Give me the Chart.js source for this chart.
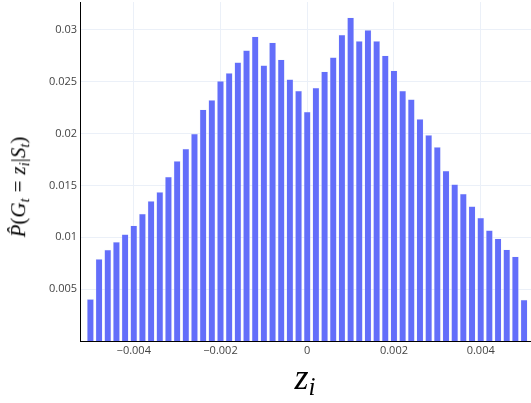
<!DOCTYPE html>
<html>
<head>
<meta charset="utf-8">
<script src="https://cdn.jsdelivr.net/npm/chart.js@4"></script>
<style>
  body { margin: 0; background: #fff; }
  #wrap { position: relative; width: 531px; height: 403px; }
  .math { position: absolute; font-family: 'Liberation Serif', 'DejaVu Serif', serif; color: #000; white-space: nowrap; }
  .math i { font-style: italic; }
  .math sub { font-size: 0.7em; vertical-align: -0.25em; }
  .math .rel { padding: 0 0.28em; }
  #xTitle { left: 0; width: 610px; top: 357px; text-align: center; font-size: 36px; line-height: 40px; }
  #yTitle { left: 21px; top: 187px; font-size: 21px; line-height: 24px; transform: translate(-50%, -50%) rotate(-90deg); }
</style>
</head>
<body>
<div id="wrap">
  <canvas id="chart" width="531" height="403"></canvas>
  <div id="xTitle" class="math"><i>z</i><sub><i>i</i></sub></div>
  <div id="yTitle" class="math"><i>P̂</i>(<i>G</i><sub><i>t</i></sub><span class="rel">=</span><i>z</i><sub><i>i</i></sub>|<i>S</i><sub><i>t</i></sub>)</div>
</div>
<script>
// bin centres (step 0.0002) and the estimated probability of each bin
const binCenters = [];
for (let i = 0; i <= 50; i++) binCenters.push(Math.round((-0.005 + i * 0.0002) * 1e5) / 1e5);

const probs = [
  0.00404, 0.00792, 0.00879, 0.00956, 0.0103, 0.01113, 0.01228, 0.01351, 0.01437, 0.01585,
  0.01736, 0.01855, 0.01999, 0.02234, 0.02324, 0.02507, 0.02584, 0.0269, 0.02805, 0.02937,
  0.02661, 0.0288, 0.02716, 0.02526, 0.02413, 0.02211, 0.02442, 0.026, 0.02738, 0.02953,
  0.0312, 0.02895, 0.03001, 0.02895, 0.02754, 0.0261, 0.02413, 0.02333, 0.02141, 0.01987,
  0.01871, 0.01643, 0.01512, 0.01421, 0.013, 0.0119, 0.01068, 0.00988, 0.00882, 0.00814,
  0.00397
];

const xTicks = [-0.004, -0.002, 0, 0.002, 0.004];
const yTicks = [0.005, 0.01, 0.015, 0.02, 0.025, 0.03];

const tickFont = { family: 'Open Sans', size: 11 };
const gridColor = '#ebf0f8';

function fmt(v) {
  const s = String(Math.round(v * 1e6) / 1e6);
  return s.replace('-', '\u2212');
}

new Chart(document.getElementById('chart'), {
  type: 'bar',
  data: {
    datasets: [{
      data: binCenters.map((x, i) => ({ x: x, y: probs[i] })),
      backgroundColor: '#636efa',
      borderColor: 'rgba(229,236,246,0.9)',
      borderWidth: 0.5,
      barPercentage: 0.8,
      categoryPercentage: 1
    }]
  },
  options: {
    responsive: false,
    animation: false,
    devicePixelRatio: 1,
    layout: { padding: { top: 2, left: 0, right: 0, bottom: 0 } },
    plugins: { legend: { display: false }, tooltip: { enabled: false } },
    scales: {
      x: {
        type: 'linear',
        offset: false,
        min: -0.00524,
        max: 0.00516,
        afterBuildTicks: s => { s.ticks = xTicks.map(v => ({ value: v })); },
        afterFit: s => { s.height = 62; s.paddingLeft = 0; s.paddingRight = 0; },
        ticks: { color: '#444', font: tickFont, padding: 3, maxRotation: 0, callback: v => fmt(v) },
        grid: { color: gridColor, drawTicks: false, offset: false },
        border: { display: true, color: '#000', width: 1 }
      },
      y: {
        min: 0,
        max: 0.0327,
        afterBuildTicks: s => { s.ticks = yTicks.map(v => ({ value: v })); },
        afterFit: s => { s.width = 80; s.paddingTop = 0; s.paddingBottom = 0; },
        ticks: { color: '#444', font: tickFont, padding: 3, callback: v => fmt(v) },
        grid: { color: gridColor, drawTicks: false },
        border: { display: true, color: '#000', width: 1 }
      }
    }
  }
});
</script>
</body>
</html>
